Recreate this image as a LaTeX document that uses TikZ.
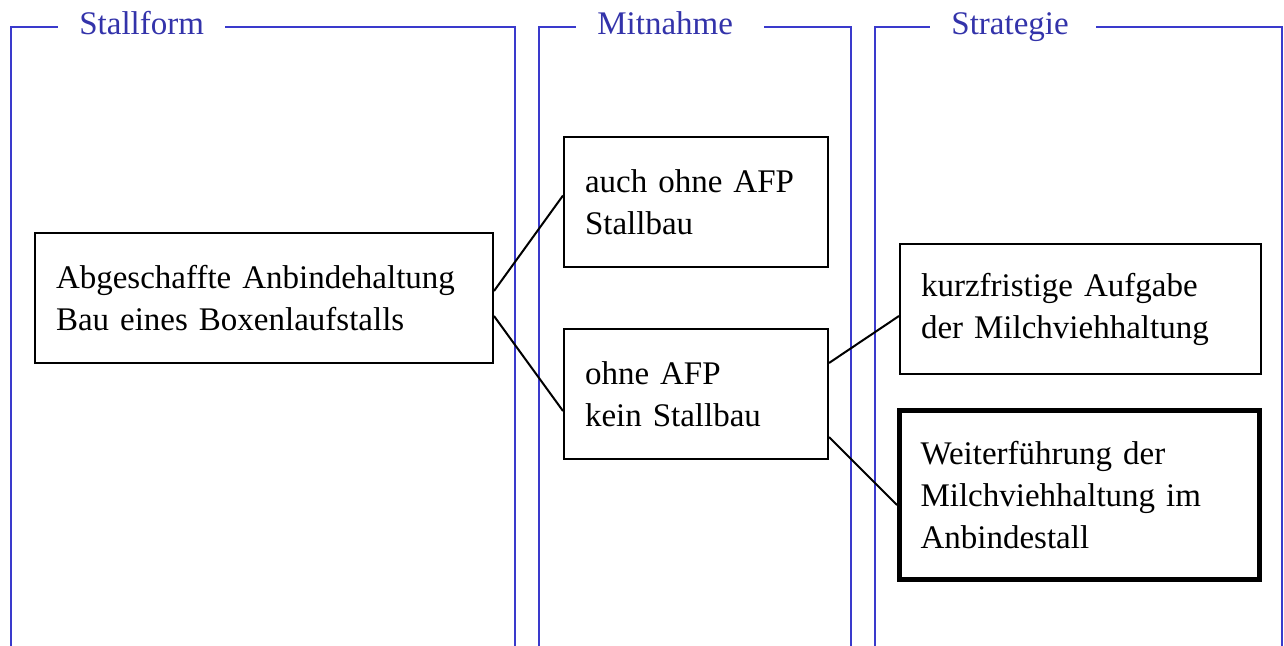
\documentclass[tikz,border=0pt]{standalone}
\usepackage{fontspec}
\setmainfont{Liberation Serif}

\definecolor{panelblue}{RGB}{58,58,204}
\definecolor{headblue}{RGB}{51,51,170}

\tikzset{
  panel/.style={draw=panelblue, line width=1pt},
  head/.style={text=headblue, inner xsep=10.5pt, inner ysep=0pt, anchor=base west},
  box/.style={draw, line width=1pt, align=left, inner xsep=10.5pt,
    minimum height=65pt, anchor=north west},
  mainbox/.style={box, line width=2.5pt},
  link/.style={line width=1pt}
}

\begin{document}
\begin{tikzpicture}[x=0.5pt, y=-0.5pt, font=\fontsize{16.5}{21}\selectfont]
\useasboundingbox (0,0) rectangle (1284,646);
\coordinate (top) at (0,27);
% column Stallform
\node[head] (hstall) at (58,34.5) {Stallform};
\draw[panel] (11,646) |- (hstall.west |- top);
\draw[panel] (hstall.east |- top) -| (515,646);
% column Mitnahme
\node[head] (hmit) at (576,34.5) {Mitnahme};
\draw[panel] (539,646) |- (hmit.west |- top);
\draw[panel] ([xshift=5pt]hmit.east |- top) -| (851,646);
% column Strategie
\node[head] (hstrat) at (930,34.5) {Strategie};
\draw[panel] (875,646) |- (hstrat.west |- top);
\draw[panel] ([xshift=3pt]hstrat.east |- top) -| (1282,646);
% boxes
\node[box, text width=208pt] (stall) at (34,232)
  {Abgeschaffte Anbindehaltung\\Bau eines Boxenlaufstalls};
\node[box, text width=111pt] (mitja) at (563,136)
  {auch ohne AFP\\Stallbau};
\node[box, text width=111pt] (mitnein) at (563,328)
  {ohne AFP\\kein Stallbau};
\node[box, text width=159.5pt] (aufgabe) at (899,243)
  {kurzfristige Aufgabe\\der Milchviehhaltung};
\node[mainbox, text width=159pt, minimum height=84.5pt] (weiter) at (897,408)
  {Weiterf\"uhrung der\\Milchviehhaltung im\\Anbindestall};
% links
\draw[link] ([yshift=3.5pt]stall.east) -- ([yshift=3.25pt]mitja.west);
\draw[link] ([yshift=-9pt]stall.east) -- ([yshift=-8.5pt]mitnein.west);
\draw[link] ([yshift=15.5pt]mitnein.east) -- ([yshift=-3.5pt]aufgabe.west);
\draw[link] ([yshift=-21.5pt]mitnein.east) -- ([yshift=-5pt]weiter.west);
\end{tikzpicture}
\end{document}
